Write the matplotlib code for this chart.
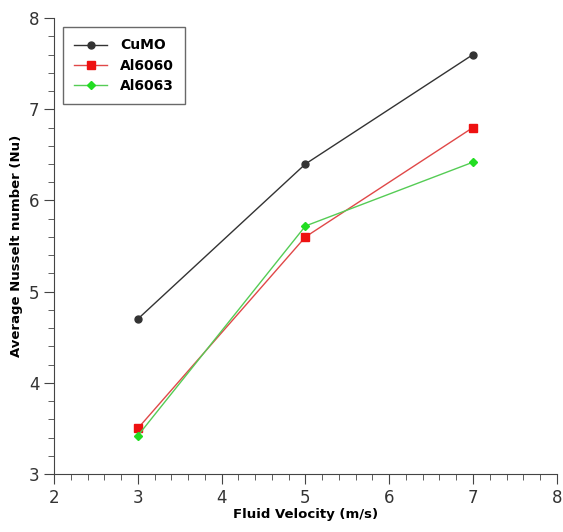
import matplotlib.pyplot as plt
from matplotlib.ticker import MultipleLocator

# 数据
velocity = [3, 5, 7]
cumo = [4.7, 6.4, 7.6]
al6060 = [3.5, 5.6, 6.8]
al6063 = [3.42, 5.72, 6.42]

fig = plt.figure(figsize=(5.63, 5.32), dpi=100)
ax = fig.add_axes([0.096, 0.109, 0.893, 0.857])

ax.plot(velocity, cumo, color='#333333', lw=1, marker='o', ms=5, label='CuMO')
ax.plot(velocity, al6060, color='#e04848', lw=1, marker='s', ms=6,
        mfc='#ee1111', mec='#ee1111', label='Al6060')
ax.plot(velocity, al6063, color='#55cc55', lw=1, marker='D', ms=4,
        mfc='#22dd22', mec='#22dd22', label='Al6063')

ax.set_xlim(2, 8)
ax.set_ylim(3, 8)
ax.xaxis.set_major_locator(MultipleLocator(1))
ax.xaxis.set_minor_locator(MultipleLocator(0.2))
ax.yaxis.set_major_locator(MultipleLocator(1))
ax.yaxis.set_minor_locator(MultipleLocator(0.2))

# 只保留左边和底边
ax.spines['top'].set_visible(False)
ax.spines['right'].set_visible(False)
for s in ('left', 'bottom'):
    ax.spines[s].set_color('#444444')
ax.tick_params(which='major', length=7, color='#444444', labelsize=12,
               labelcolor='#333333')
ax.tick_params(which='minor', length=4, color='#444444')

ax.set_xlabel('Fluid Velocity (m/s)', fontsize=9.5, fontweight='bold', labelpad=1)
ax.set_ylabel('Average Nusselt number (Nu)', fontsize=9.5, fontweight='bold', labelpad=4)

leg = ax.legend(loc='upper left', bbox_to_anchor=(0.004, 0.995), fancybox=False,
                edgecolor='#444444', fontsize=10, handlelength=2.4,
                borderpad=0.8, labelspacing=0.45, handletextpad=0.9)
for t in leg.get_texts():
    t.set_fontweight('bold')

fig.savefig('out.png')
